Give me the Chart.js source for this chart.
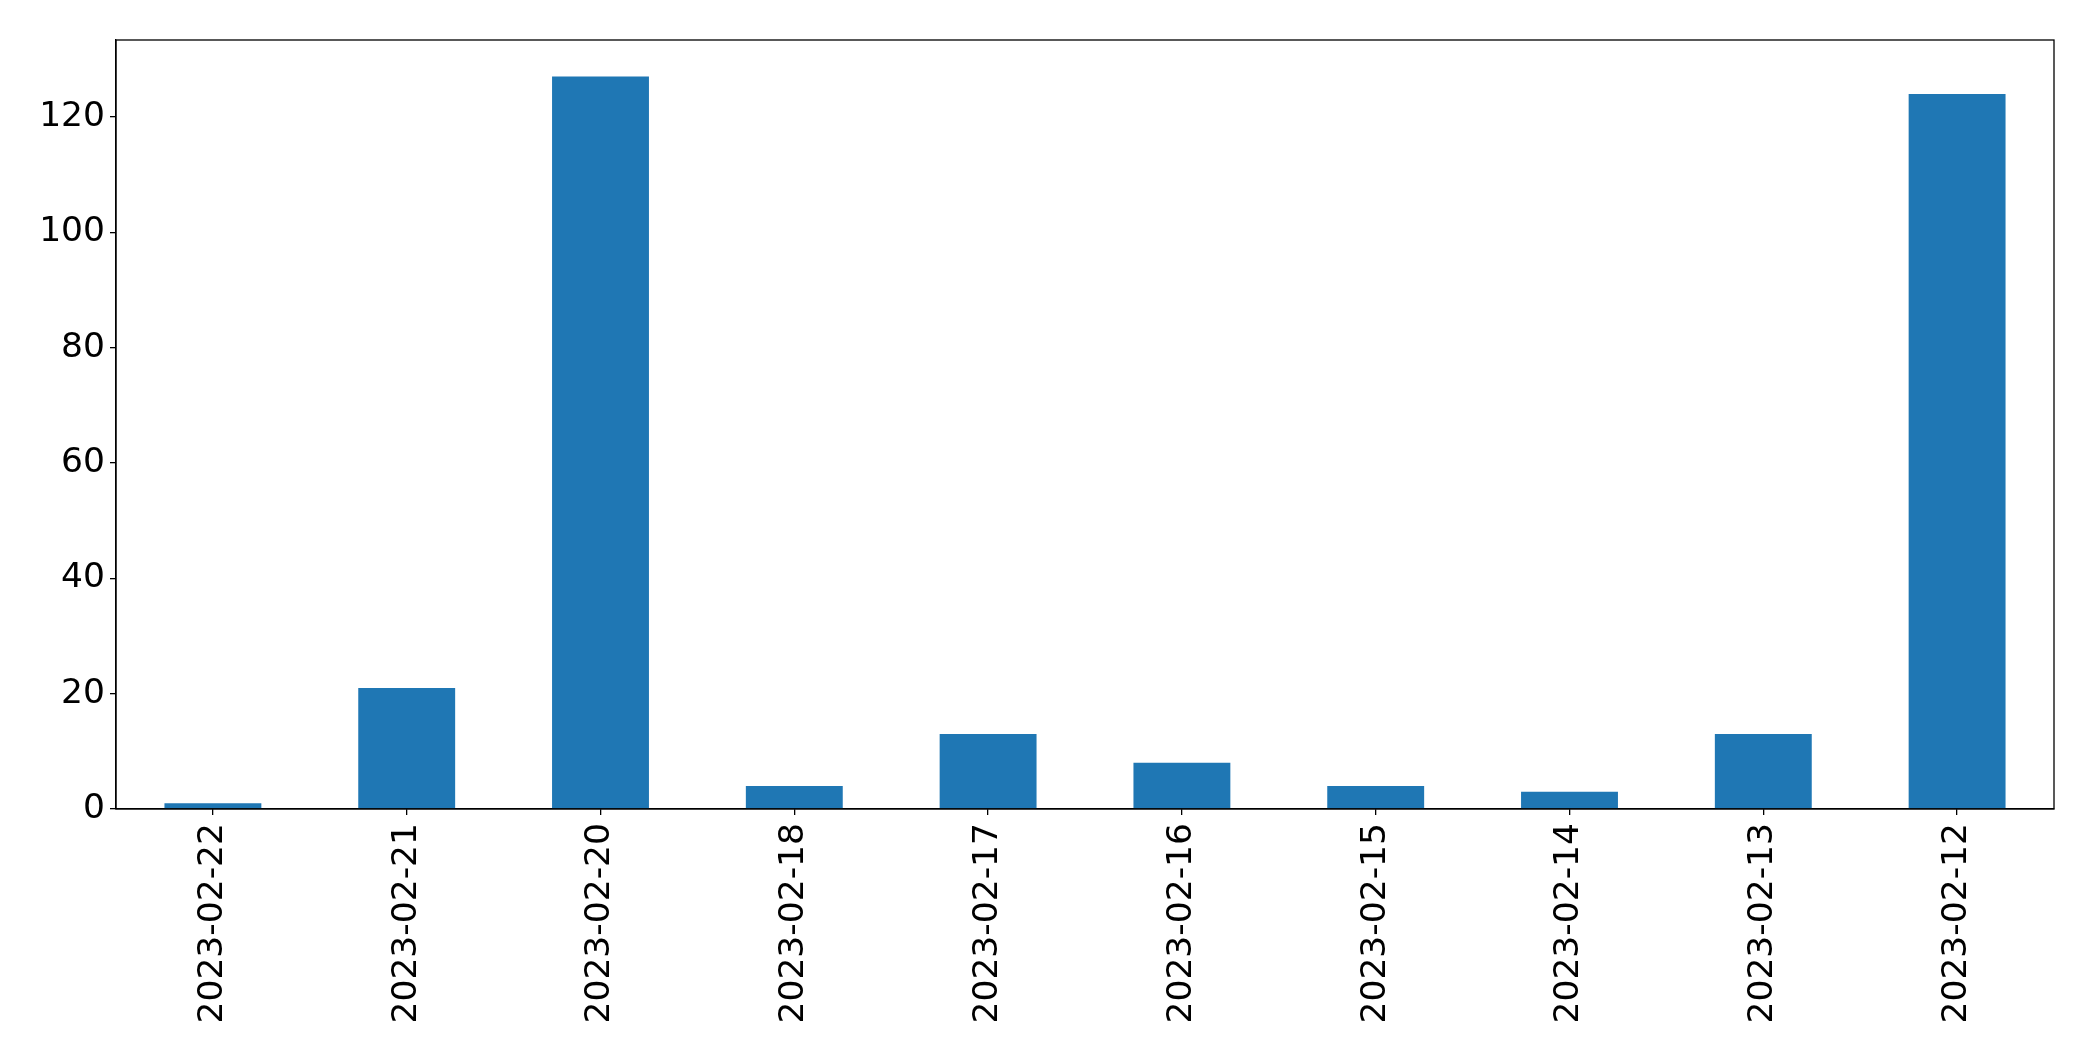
<!DOCTYPE html>
<html>
<head>
<meta charset="utf-8">
<script src="https://cdn.jsdelivr.net/npm/chart.js@4/dist/chart.umd.min.js"></script>
<style>
html,body{margin:0;padding:0;background:#fff;}
#wrap{width:2093px;height:1061px;}
</style>
</head>
<body>
<div id="wrap"><canvas id="c" width="2093" height="1061"></canvas></div>
<script>
const categories = ["2023-02-22","2023-02-21","2023-02-20","2023-02-18","2023-02-17","2023-02-16","2023-02-15","2023-02-14","2023-02-13","2023-02-12"];
const counts = [1, 21, 127, 4, 13, 8, 4, 3, 13, 124];
const yMax = 133.35;
const yStep = 20;

const frame = {
  id: 'frame',
  afterDraw(chart) {
    const a = chart.chartArea, ctx = chart.ctx;
    ctx.save();
    ctx.strokeStyle = '#000';
    ctx.lineWidth = 1.3;
    ctx.strokeRect(a.left, a.top, a.right - a.left, a.bottom - a.top);
    ctx.restore();
  }
};

new Chart(document.getElementById('c'), {
  type: 'bar',
  data: {
    labels: categories,
    datasets: [{
      data: counts,
      backgroundColor: '#1f77b4',
      borderWidth: 0,
      categoryPercentage: 0.5,
      barPercentage: 1.0
    }]
  },
  plugins: [frame],
  options: {
    responsive: false,
    animation: false,
    devicePixelRatio: 1,
    layout: { padding: { left: 0, top: 40, right: 39, bottom: 0 } },
    plugins: { legend: { display: false }, tooltip: { enabled: false } },
    scales: {
      x: {
        offset: true,
        grid: { display: true, offset: false, drawOnChartArea: false, drawTicks: true, tickLength: 6, color: '#000', lineWidth: 1.3 },
        border: { display: true, color: '#000', width: 1.3 },
        ticks: {
          color: '#000',
          font: { family: 'DejaVu Sans', size: 34.5 },
          minRotation: 90, maxRotation: 90,
          padding: 8,
          autoSkip: false
        },
        afterFit(s) { s.height = 252; }
      },
      y: {
        min: 0,
        max: yMax,
        grid: { display: true, drawOnChartArea: false, drawTicks: true, tickLength: 6, color: '#000', lineWidth: 1.3 },
        border: { display: true, color: '#000', width: 1.3 },
        ticks: {
          stepSize: yStep,
          includeBounds: false,
          color: '#000',
          font: { family: 'DejaVu Sans', size: 34.5 },
          padding: 5
        },
        afterFit(s) { s.width = 116; }
      }
    }
  }
});
</script>
</body>
</html>
